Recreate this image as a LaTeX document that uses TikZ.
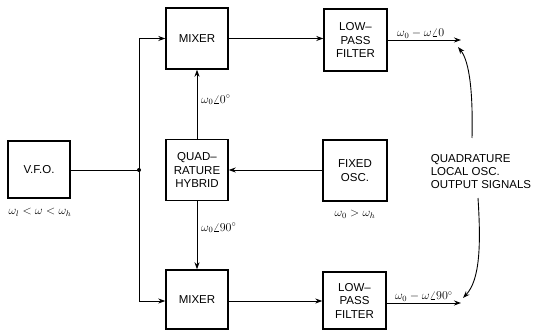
\documentclass[tikz,border=0pt]{standalone}
\usepackage{fontspec}
\setmainfont{Liberation Sans}
\usetikzlibrary{arrows.meta,calc}
\begin{document}
\begin{tikzpicture}[x=1pt,y=-1pt,
  blk/.style={draw,line width=1.4pt,minimum width=62pt,minimum height=61pt,inner sep=0pt,align=center,font=\fontsize{11.5}{13.5}\selectfont},
  conn/.style={line width=0.9pt},
  arr/.style={line width=0.9pt,-{Stealth[length=7pt,width=5pt]}},
  lbl/.style={font=\fontsize{11.5}{13}\selectfont,inner sep=1pt}]
\useasboundingbox (0,0) rectangle (535,331);
\node[blk,minimum height=57pt] (vfo) at (39,169.5) {V.F.O.};
\node[blk] (mt) at (197,38.5) {MIXER};
\node[blk] (hy) at (197,170) {QUAD--\\RATURE\\HYBRID};
\node[blk,minimum height=59pt] (mb) at (197,299.5) {MIXER};
\node[blk,minimum width=63pt,minimum height=62pt] (lt) at (355.5,40) {LOW--\\PASS\\FILTER};
\node[blk,minimum width=64pt] (fo) at (355,170.5) {FIXED\\OSC.};
\node[blk,minimum width=63pt,minimum height=57pt] (lb) at (354.5,300.5) {LOW--\\PASS\\FILTER};
\node[align=left,font=\fontsize{11.5}{13}\selectfont,inner sep=0pt] (q) at (481,172) {QUADRATURE\\LOCAL OSC.\\OUTPUT SIGNALS};
\coordinate (j) at (139,170);
\coordinate (jt) at (139,38.5);
\coordinate (jb) at (139,301);
\coordinate (o1) at (461,40);
\coordinate (o2) at (461,303);
\coordinate (qt) at (472,138);
\coordinate (qb) at (478,198);
\coordinate (h1) at (458,47);
\coordinate (h2) at (463,298);
\fill (j) circle (2pt);
\draw[conn] (vfo.east|-j) -- (j);
\draw[conn] (jt) -- (jb);
\draw[arr] (jt) -- (mt.west);
\draw[arr] (jb) -- (mb.west|-jb);
\draw[arr] (hy.north) -- (mt.south);
\draw[arr] (hy.south) -- (mb.north);
\draw[arr] (fo.west|-hy.east) -- (hy.east);
\draw[arr] (mt.east) -- (lt.west|-mt.east);
\draw[arr] (mb.east|-jb) -- (lb.west|-jb);
\draw[arr] (lt.east) -- node[lbl,above,pos=0.45] {$\omega_0-\omega\angle 0$} (o1);
\draw[arr] (lb.east|-o2) -- node[lbl,above,pos=0.5] {$\omega_0-\omega\angle 90^\circ$} (o2);
\draw[arr] (qt) .. controls (473,95) and (470,62) .. (h1);
\draw[arr] (qb) .. controls (481,245) and (480,280) .. (h2);
\node[lbl] (lv) at (40,212) {$\omega_l<\omega<\omega_h$};
\node[lbl,anchor=west] (l0) at (200,100) {$\omega_0\angle 0^\circ$};
\node[lbl,anchor=west] (l90) at (200,228) {$\omega_0\angle 90^\circ$};
\node[lbl] (lf) at (355,214) {$\omega_0>\omega_h$};
\end{tikzpicture}
\end{document}
